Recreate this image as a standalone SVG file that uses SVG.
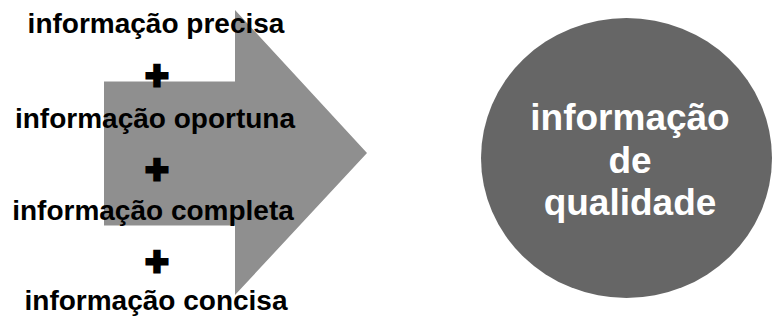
<svg xmlns="http://www.w3.org/2000/svg" width="773" height="320" viewBox="0 0 773 320">
<style>
.t{font-family:"Liberation Sans",Arial,sans-serif;font-weight:bold;text-anchor:middle}
.l{font-size:28px;fill:#000}
.p{font-size:40px;fill:#000;stroke:#000;stroke-width:3}
.c{font-size:37px;fill:#fff}
</style>
<rect width="773" height="320" fill="#fff"/>
<g id="arrow">
<polygon points="104,81.5 235,81.5 235,10 367,153 235,295 235,225.5 104,225.5" fill="#8f8f8f"/>
</g>
<g id="inputs">
<text class="t l" x="156" y="33">informação precisa</text>
<text class="t p" x="157" y="89">+</text>
<text class="t l" x="155" y="128">informação oportuna</text>
<text class="t p" x="157" y="183">+</text>
<text class="t l" x="153" y="220">informação completa</text>
<text class="t p" x="157" y="275">+</text>
<text class="t l" x="156" y="310">informação concisa</text>
</g>
<g id="result">
<ellipse cx="626.5" cy="158" rx="145.5" ry="140" fill="#666"/>
<text class="t c" x="630" y="130">informação</text>
<text class="t c" x="630" y="173">de</text>
<text class="t c" x="630" y="215">qualidade</text>
</g>
</svg>
